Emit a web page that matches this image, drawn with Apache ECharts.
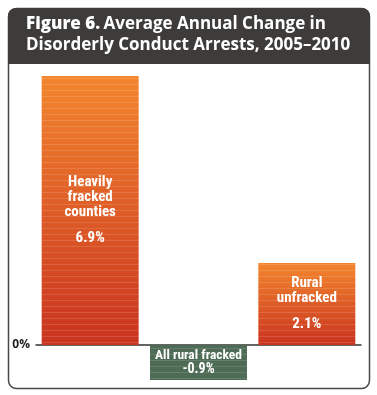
<!DOCTYPE html>
<html>
<head>
<meta charset="utf-8">
<script src="https://cdn.jsdelivr.net/npm/echarts@6/dist/echarts.min.js"></script>
<style>
  html, body { margin: 0; padding: 0; background: #fff; }
  #chart { width: 377px; height: 395px; }
</style>
</head>
<body>
<div id="chart"></div>
<script>
// chart data
const categories = ["Heavily\nfracked\ncounties", "All rural fracked", "Rural\nunfracked"];
const values = [6.9, -0.9, 2.1];
const valueLabels = ["6.9%", "-0.9%", "2.1%"];

const condensed = "'Liberation Sans Narrow', 'Roboto Condensed', 'Open Sans', sans-serif";

const chart = echarts.init(document.getElementById("chart"));

const orange = new echarts.graphic.LinearGradient(0, 0, 0, 1, [
  { offset: 0, color: "#f3862e" },
  { offset: 1, color: "#c9331f" },
]);
// faint horizontal stripes over the bars
const stripes = {
  symbol: "rect",
  symbolSize: 1,
  dashArrayX: [1, 0],
  dashArrayY: [1, 5],
  color: "rgba(255,255,255,0.13)",
};

const option = {
  animation: false,
  graphic: [
    {
      type: "rect",
      shape: { x: 8.5, y: 8.5, width: 361, height: 380, r: 8 },
      style: { fill: "#fff", stroke: "#4a4846", lineWidth: 1.5 },
      z: -10,
    },
    {
      type: "rect",
      shape: { x: 8, y: 8, width: 362, height: 56, r: [8, 8, 0, 0] },
      style: { fill: "#3e3c3a" },
      z: 10,
    },
    {
      type: "text",
      left: 26,
      top: 16,
      z: 11,
      style: {
        text: "{b|Figure 6.} {t|Average Annual Change in}\n{t|Disorderly Conduct Arrests, 2005–2010}",
        rich: {
          b: { fontFamily: "'Open Sans', sans-serif", fontWeight: 800, fontSize: 17, fill: "#fff", lineHeight: 21 },
          t: { fontFamily: "'Open Sans', sans-serif", fontWeight: "bold", fontSize: 17, fill: "#fff", lineHeight: 21 },
        },
      },
    },
  ],
  grid: { left: 36, right: 16, top: 72, bottom: 11 },
  xAxis: {
    type: "category",
    data: categories,
    axisLine: { onZero: true, lineStyle: { color: "#333", width: 1.5 } },
    axisTick: { show: false },
    axisLabel: { show: false },
  },
  yAxis: {
    type: "value",
    min: -1,
    max: 7,
    interval: 1,
    splitLine: { show: false },
    axisLine: { show: false },
    axisTick: { show: false },
    axisLabel: {
      formatter: (v) => (v === 0 ? "0%" : ""),
      color: "#222",
      fontWeight: "bold",
      fontSize: 12,
      fontFamily: "'Open Sans', sans-serif",
      margin: 6,
    },
  },
  series: [
    {
      type: "bar",
      barWidth: 97,
      data: values.map((v) => ({
        value: v,
        itemStyle: v < 0
          ? { color: "#4e6b56", decal: stripes }
          : { color: orange, decal: stripes },
      })),
      label: {
        show: true,
        position: "inside",
        formatter: (p) => {
          const i = p.dataIndex;
          const lines = categories[i].split("\n").map((s) => "{n|" + s + "}");
          if (values[i] < 0) return "{g|" + categories[i] + "}\n{s|" + valueLabels[i] + "}";
          return lines.join("\n") + "\n{v|" + valueLabels[i] + "}";
        },
        rich: {
          n: { color: "#fff", fontFamily: condensed, fontWeight: "bold", fontSize: 15, lineHeight: 15 },
          v: { color: "#fff", fontFamily: condensed, fontWeight: "bold", fontSize: 15, lineHeight: 26, verticalAlign: "bottom" },
          g: { color: "#fff", fontFamily: condensed, fontWeight: "bold", fontSize: 13.5, lineHeight: 14 },
          s: { color: "#fff", fontFamily: condensed, fontWeight: "bold", fontSize: 14, lineHeight: 14 },
        },
      },
    },
  ],
};

chart.setOption(option);
</script>
</body>
</html>
